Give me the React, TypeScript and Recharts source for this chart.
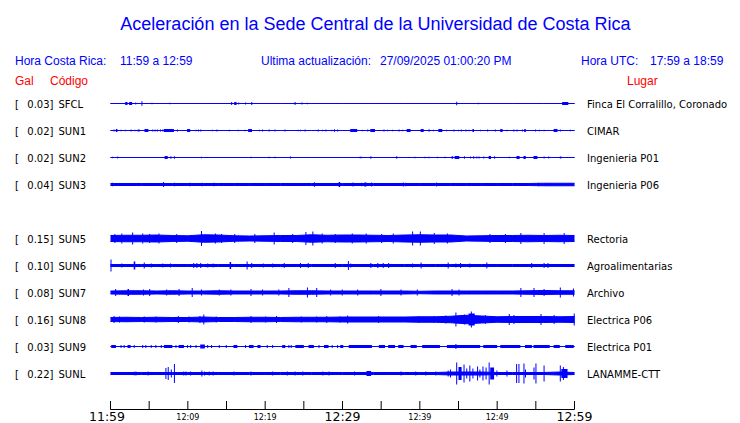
import { ComposedChart, Area, XAxis, YAxis, ReferenceArea } from "recharts";

// estaciones, en el orden de la figura (SUN4 sin datos deja una fila vacia)
const STATIONS = ["SFCL", "SUN1", "SUN2", "SUN3", "SUN5", "SUN6", "SUN7", "SUN8", "SUN9", "SUNL"];
const PEAKS = ["0.03", "0.02", "0.02", "0.04", "0.15", "0.10", "0.08", "0.16", "0.03", "0.22"];
const PLACES = [
    "Finca El Corralillo, Coronado",
    "CIMAR",
    "Ingenieria P01",
    "Ingenieria P06",
    "Rectoria",
    "Agroalimentarias",
    "Archivo",
    "Electrica P06",
    "Electrica P01",
    "LANAMME-CTT",
];

// minutos desde 11:59 donde se leyo la envolvente
const MINUTES = [0, 2, 4, 6, 8, 10, 12, 14, 16, 18, 20, 22, 24, 26, 28, 30, 32, 34, 36, 38, 40, 42, 44, 46, 48, 50, 52, 54, 56, 58, 60];

const TICKS = [0, 5, 10, 15, 20, 25, 30, 35, 40, 45, 50, 55, 60];
const TICK_LABELS = ["11:59", "", "12:09", "", "12:19", "", "12:29", "", "12:39", "", "12:49", "", "12:59"];
const MAJOR_TICKS = [0, 30, 60];

// envolvente (semi-amplitud, Gal) del ruido de fondo de cada traza
const sfclEnv = [0, 0, 0, 0, 0, 0, 0, 0, 0, 0, 0, 0, 0, 0, 0, 0, 0, 0, 0, 0, 0, 0, 0, 0, 0, 0, 0, 0, 0, 0, 0];
const sun1Env = [0, 0, 0, 0, 0, 0, 0, 0, 0, 0, 0, 0, 0, 0, 0, 0, 0, 0, 0, 0, 0, 0, 0, 0, 0, 0, 0, 0, 0, 0, 0];
const sun2Env = [0, 0, 0, 0, 0, 0, 0, 0, 0, 0, 0, 0, 0, 0, 0, 0, 0, 0, 0, 0, 0, 0, 0, 0, 0, 0, 0, 0, 0, 0, 0];
const sun3Env = [0.02, 0.02, 0.02, 0.02, 0.02, 0.02, 0.02, 0.02, 0.02, 0.02, 0.02, 0.02, 0.02, 0.02, 0.02, 0.02, 0.02, 0.02, 0.02, 0.02, 0.02, 0.02, 0.02, 0.02, 0.02, 0.02, 0.02, 0.02, 0.025, 0.025, 0.025];
const sun5Env = [0.06, 0.065, 0.065, 0.07, 0.06, 0.055, 0.075, 0.07, 0.055, 0.05, 0.055, 0.06, 0.06, 0.075, 0.065, 0.07, 0.07, 0.065, 0.06, 0.07, 0.075, 0.07, 0.07, 0.05, 0.055, 0.06, 0.06, 0.065, 0.06, 0.065, 0.06];
const sun6Env = [0.02, 0.02, 0.02, 0.02, 0.02, 0.02, 0.02, 0.02, 0.02, 0.02, 0.02, 0.02, 0.02, 0.02, 0.02, 0.02, 0.02, 0.02, 0.02, 0.02, 0.02, 0.02, 0.02, 0.02, 0.02, 0.02, 0.02, 0.02, 0.02, 0.02, 0.02];
const sun7Env = [0.03, 0.035, 0.035, 0.03, 0.035, 0.03, 0.03, 0.035, 0.03, 0.03, 0.03, 0.03, 0.035, 0.035, 0.03, 0.03, 0.03, 0.03, 0.03, 0.03, 0.025, 0.03, 0.03, 0.03, 0.03, 0.03, 0.03, 0.035, 0.04, 0.035, 0.035];
const sun8Env = [0.04, 0.045, 0.04, 0.045, 0.04, 0.04, 0.05, 0.04, 0.04, 0.045, 0.045, 0.04, 0.045, 0.045, 0.045, 0.05, 0.05, 0.05, 0.05, 0.05, 0.055, 0.055, 0.065, 0.085, 0.07, 0.055, 0.06, 0.06, 0.06, 0.055, 0.06];
const sun9Env = [0, 0, 0, 0, 0, 0, 0, 0, 0, 0, 0, 0, 0, 0, 0, 0, 0, 0, 0, 0, 0, 0, 0, 0, 0, 0, 0, 0, 0, 0, 0];
const sunlEnv = [0.02, 0.02, 0.02, 0.02, 0.02, 0.02, 0.02, 0.02, 0.02, 0.02, 0.02, 0.02, 0.02, 0.02, 0.02, 0.02, 0.02, 0.02, 0.02, 0.02, 0.02, 0.02, 0.03, 0.03, 0.03, 0.02, 0.02, 0.02, 0.02, 0.03, 0.02];

// picos y rafagas: [minuto inicio, minuto fin, semi-amplitud Gal]
const sfclBursts = [
    [1.9, 2.2, 0.03], [2.4, 2.8, 0.03], [3.2, 3.2, 0.02], [4.0, 4.1, 0.045], [5.3, 5.3, 0.015], [7.6, 7.6, 0.015],
    [15.6, 15.7, 0.03], [16.0, 16.3, 0.03], [16.5, 16.5, 0.02], [17.4, 17.5, 0.02], [18.2, 18.2, 0.03],
    [23.8, 23.9, 0.03], [24.7, 24.7, 0.02], [25.4, 25.4, 0.015], [44.7, 44.7, 0.035], [47.5, 47.5, 0.015],
    [58.4, 59.2, 0.03],
];
const sun1Bursts = [
    [0.4, 0.4, 0.02], [0.7, 0.9, 0.03], [1.3, 1.3, 0.015], [1.85, 1.85, 0.015], [2.6, 2.6, 0.02], [3.1, 3.1, 0.015],
    [3.45, 3.45, 0.015], [3.6, 3.75, 0.025], [4.4, 4.9, 0.03], [5.4, 5.4, 0.02], [5.7, 5.7, 0.02], [6.0, 6.0, 0.02],
    [6.4, 6.4, 0.02], [6.7, 6.7, 0.02], [6.9, 8.2, 0.03], [8.6, 8.6, 0.02], [9.9, 10.3, 0.03], [11.0, 11.0, 0.015],
    [11.3, 11.3, 0.02], [11.6, 11.6, 0.02], [13.1, 13.1, 0.015], [13.7, 13.7, 0.02], [15.3, 15.3, 0.015],
    [16.45, 16.45, 0.015], [17.35, 17.35, 0.015], [17.8, 18.3, 0.03], [19.2, 19.2, 0.015], [19.6, 19.6, 0.02],
    [20.45, 20.45, 0.02], [21.2, 21.2, 0.02], [22.5, 22.5, 0.02], [24.2, 24.2, 0.015], [24.5, 24.5, 0.015],
    [25.1, 25.1, 0.02], [26.8, 26.8, 0.02], [27.35, 27.35, 0.015], [27.8, 27.8, 0.02], [28.55, 28.55, 0.015],
    [28.9, 29.0, 0.025], [29.3, 29.3, 0.02], [31.0, 31.9, 0.03], [32.5, 32.5, 0.015], [33.2, 33.2, 0.02],
    [33.6, 34.2, 0.03], [35.3, 35.3, 0.02], [35.75, 35.75, 0.015], [36.4, 36.4, 0.015], [37.25, 37.25, 0.02],
    [37.7, 37.7, 0.015], [38.3, 38.8, 0.03], [40.1, 40.5, 0.03], [41.1, 41.3, 0.02], [41.7, 41.7, 0.015],
    [42.4, 42.9, 0.03], [43.4, 43.4, 0.015], [44.35, 44.35, 0.02], [44.9, 44.9, 0.015], [45.3, 45.3, 0.02],
    [45.9, 45.9, 0.02], [46.3, 46.3, 0.015], [46.8, 47.0, 0.03], [47.8, 47.8, 0.015], [48.7, 48.7, 0.02],
    [49.7, 49.8, 0.02], [50.4, 50.7, 0.03], [51.2, 51.2, 0.015], [52.1, 52.1, 0.02], [52.5, 52.5, 0.02],
    [53.2, 53.2, 0.02], [53.5, 53.7, 0.03], [54.9, 54.9, 0.02], [55.4, 55.4, 0.015], [56.0, 56.0, 0.015],
    [57.3, 57.8, 0.03], [58.1, 58.1, 0.02], [59.4, 59.4, 0.015],
];
const sun2Bursts = [
    [0.2, 0.2, 0.015], [0.87, 0.87, 0.02], [7.0, 7.4, 0.03], [7.75, 7.75, 0.025], [8.2, 8.2, 0.025],
    [11.7, 11.7, 0.015], [18.1, 18.1, 0.015], [20.45, 20.45, 0.015], [21.2, 21.2, 0.015], [23.2, 23.2, 0.02],
    [32.2, 32.5, 0.015], [33.6, 33.6, 0.025], [36.95, 36.95, 0.025], [39.3, 39.3, 0.015], [40.6, 40.6, 0.015],
    [41.1, 41.1, 0.015], [42.2, 42.2, 0.015], [43.2, 43.2, 0.015], [44.1, 44.3, 0.025], [44.5, 45.1, 0.03],
    [45.7, 45.7, 0.025], [46.5, 46.5, 0.02], [46.9, 46.9, 0.025], [47.3, 47.3, 0.02], [47.6, 47.6, 0.02],
    [48.2, 48.2, 0.02], [48.9, 49.2, 0.03], [49.6, 49.6, 0.025], [51.5, 51.5, 0.015], [52.5, 52.9, 0.03],
    [53.4, 53.7, 0.03], [54.7, 55.2, 0.03], [56.0, 56.0, 0.02], [56.6, 56.6, 0.02], [58.1, 58.3, 0.02],
];
const sun3Bursts = [
    [0.2, 0.2, 0.035], [6.8, 6.9, 0.05], [8.2, 8.2, 0.035], [10.2, 10.2, 0.035], [11.8, 11.8, 0.035],
    [13.3, 13.3, 0.035], [26.3, 26.3, 0.045], [29.5, 29.7, 0.05], [31.3, 31.3, 0.04], [32.4, 32.4, 0.035],
    [32.8, 33.1, 0.04], [33.7, 33.7, 0.04], [37.8, 37.8, 0.04], [38.1, 38.1, 0.035], [39.5, 39.5, 0.03],
    [42.1, 42.1, 0.04], [43.2, 43.2, 0.03], [55.3, 55.3, 0.035], [56.6, 56.6, 0.03],
];
const sun5Bursts = [
    [0.5, 0.5, 0.09], [1.4, 1.4, 0.1], [2.8, 2.8, 0.12], [4.1, 4.1, 0.1], [5.0, 5.0, 0.09], [6.2, 6.2, 0.1],
    [8.5, 8.5, 0.09], [11.7, 11.7, 0.15], [13.5, 13.5, 0.1], [14.3, 14.3, 0.09], [16.0, 16.0, 0.09],
    [18.6, 18.6, 0.09], [21.1, 21.1, 0.12], [23.5, 23.5, 0.09], [25.2, 25.2, 0.13], [26.1, 26.1, 0.14],
    [27.3, 27.3, 0.1], [29.0, 29.0, 0.09], [31.2, 31.2, 0.1], [33.0, 33.0, 0.1], [35.0, 35.0, 0.09],
    [36.5, 36.5, 0.1], [39.0, 39.0, 0.14], [40.0, 40.0, 0.14], [41.8, 41.8, 0.11], [43.5, 43.5, 0.1],
    [49.0, 49.0, 0.09], [51.0, 51.0, 0.09], [53.0, 53.0, 0.11], [56.0, 56.0, 0.11], [58.6, 58.6, 0.11],
];
const sun6Bursts = [
    [0, 0.05, 0.12], [1.4, 1.4, 0.04], [3.0, 3.2, 0.08], [4.3, 4.3, 0.06], [5.2, 5.2, 0.04], [6.7, 6.7, 0.04],
    [7.7, 7.7, 0.04], [10.7, 10.7, 0.05], [11.1, 11.1, 0.05], [11.6, 11.6, 0.05], [12.5, 12.5, 0.04],
    [13.2, 13.2, 0.04], [15.4, 15.6, 0.07], [17.6, 17.6, 0.08], [18.2, 18.2, 0.05], [19.7, 19.7, 0.04],
    [20.9, 20.9, 0.04], [22.4, 22.4, 0.05], [24.5, 24.5, 0.05], [25.5, 25.5, 0.05], [29.0, 29.0, 0.05],
    [30.7, 30.7, 0.09], [31.0, 31.0, 0.04], [33.6, 33.6, 0.05], [34.5, 34.5, 0.05], [35.2, 35.2, 0.05],
    [35.9, 35.9, 0.05], [39.0, 39.0, 0.04], [40.1, 40.1, 0.06], [43.6, 43.6, 0.06], [44.6, 44.6, 0.04],
    [45.2, 45.2, 0.05], [46.4, 46.4, 0.04], [48.6, 48.6, 0.06], [54.4, 54.4, 0.05], [56.0, 56.0, 0.05],
    [56.5, 56.5, 0.05],
];
const sun7Bursts = [
    [0.6, 0.6, 0.07], [2.2, 2.4, 0.07], [4.2, 4.2, 0.06], [5.0, 5.0, 0.07], [7.2, 7.2, 0.06], [8.8, 8.8, 0.07],
    [10.5, 10.5, 0.09], [11.7, 11.7, 0.06], [14.0, 14.0, 0.06], [15.5, 15.5, 0.06], [18.1, 18.1, 0.07],
    [19.6, 19.6, 0.06], [21.7, 21.7, 0.06], [23.0, 23.0, 0.09], [25.4, 25.4, 0.1], [26.6, 26.6, 0.09],
    [28.4, 28.4, 0.06], [29.9, 29.9, 0.06], [31.9, 31.9, 0.06], [34.9, 34.9, 0.07], [37.5, 37.5, 0.06],
    [39.6, 39.6, 0.06], [44.1, 44.1, 0.07], [45.0, 45.0, 0.06], [53.0, 53.0, 0.09], [54.7, 54.7, 0.09],
    [56.0, 56.0, 0.07], [58.1, 58.1, 0.1], [59.8, 59.8, 0.08],
];
const sun8Bursts = [
    [0.4, 0.4, 0.07], [1.1, 1.1, 0.06], [4.3, 4.3, 0.06], [5.8, 5.8, 0.06], [8.7, 8.7, 0.07], [10.1, 10.1, 0.06],
    [11.5, 11.5, 0.07], [12.0, 12.0, 0.1], [13.6, 13.6, 0.06], [18.1, 18.1, 0.07], [20.0, 20.0, 0.06],
    [21.4, 21.4, 0.07], [24.6, 24.6, 0.06], [26.6, 26.6, 0.06], [27.9, 27.9, 0.07], [29.6, 29.6, 0.06],
    [30.6, 30.6, 0.08], [34.6, 34.6, 0.07], [39.8, 39.8, 0.07], [41.8, 41.8, 0.07], [43.3, 43.3, 0.08],
    [44.6, 44.6, 0.14], [45.7, 45.7, 0.1], [46.3, 47.1, 0.12], [46.6, 46.6, 0.16], [48.4, 48.4, 0.09],
    [51.5, 51.5, 0.11], [52.1, 52.1, 0.09], [55.6, 55.6, 0.11], [57.3, 57.3, 0.09], [59.9, 59.9, 0.12],
];
const sun9Bursts = [
    [0.1, 0.7, 0.03], [1.3, 1.3, 0.03], [1.7, 1.7, 0.03], [2.2, 2.6, 0.03], [3.0, 3.0, 0.03], [4.1, 4.1, 0.03],
    [4.5, 4.5, 0.03], [5.2, 5.2, 0.03], [5.8, 5.8, 0.03], [6.5, 6.5, 0.03], [6.9, 8.0, 0.03], [8.4, 8.4, 0.03],
    [8.8, 9.5, 0.03], [9.9, 9.9, 0.03], [10.3, 10.3, 0.03], [11.0, 11.0, 0.03], [11.6, 12.2, 0.04],
    [12.5, 12.5, 0.03], [13.0, 13.0, 0.03], [14.0, 14.0, 0.03], [14.9, 14.9, 0.03], [15.9, 16.4, 0.03],
    [17.4, 17.4, 0.03], [17.9, 18.5, 0.03], [19.0, 19.4, 0.03], [20.2, 20.2, 0.03], [20.9, 20.9, 0.03],
    [22.2, 22.6, 0.03], [23.0, 23.0, 0.03], [23.3, 23.3, 0.03], [23.9, 25.0, 0.03], [25.6, 26.3, 0.03],
    [26.9, 26.9, 0.03], [27.6, 28.2, 0.03], [28.6, 28.6, 0.03], [29.3, 29.3, 0.03], [29.7, 30.1, 0.03],
    [30.8, 33.8, 0.03], [34.7, 35.5, 0.03], [35.9, 36.8, 0.03], [37.2, 37.9, 0.03], [38.8, 39.6, 0.03],
    [40.3, 42.6, 0.03], [43.5, 47.8, 0.03], [44.6, 44.6, 0.05], [48.2, 50.0, 0.03], [50.4, 53.0, 0.03],
    [53.6, 54.5, 0.03], [54.7, 56.8, 0.03], [57.3, 58.1, 0.03], [58.8, 59.9, 0.03],
];
const sunlBursts = [
    [3.0, 3.4, 0.035], [4.8, 4.8, 0.04], [5.4, 5.4, 0.03], [7.1, 7.1, 0.11], [7.4, 7.4, 0.13], [7.8, 7.8, 0.08],
    [8.2, 8.2, 0.19], [9.4, 9.4, 0.04], [9.7, 9.7, 0.04], [10.3, 10.3, 0.04], [11.75, 11.75, 0.06],
    [12.1, 12.1, 0.04], [12.7, 12.7, 0.04], [13.2, 13.2, 0.04], [15.2, 15.2, 0.03], [15.9, 15.9, 0.04],
    [18.1, 18.1, 0.04], [20.9, 20.9, 0.04], [22.8, 22.8, 0.04], [23.8, 23.8, 0.04], [24.8, 24.8, 0.04],
    [27.4, 27.4, 0.04], [28.2, 28.2, 0.04], [31.5, 31.5, 0.04], [33.1, 33.7, 0.05], [35.2, 35.2, 0.03],
    [37.5, 37.5, 0.04], [39.4, 39.4, 0.04], [40.7, 40.7, 0.04], [42.0, 42.0, 0.04], [43.6, 43.6, 0.06],
    [43.9, 43.9, 0.08], [44.7, 44.8, 0.22], [45.0, 45.4, 0.13], [45.65, 45.7, 0.18], [46.0, 46.0, 0.1],
    [46.4, 46.5, 0.16], [46.8, 46.8, 0.1], [47.4, 47.4, 0.14], [47.7, 47.7, 0.08], [48.1, 48.1, 0.14],
    [48.5, 48.5, 0.12], [48.9, 49.0, 0.22], [49.1, 49.6, 0.12], [49.9, 49.9, 0.06], [51.2, 51.2, 0.06],
    [52.45, 52.45, 0.19], [52.75, 52.75, 0.19], [53.4, 53.4, 0.2], [53.6, 53.6, 0.08], [54.7, 54.7, 0.12],
    [54.95, 54.95, 0.2], [56.0, 56.0, 0.16], [58.1, 58.1, 0.16], [58.3, 59.1, 0.09], [58.5, 58.5, 0.13],
];

const ENVELOPES = [sfclEnv, sun1Env, sun2Env, sun3Env, sun5Env, sun6Env, sun7Env, sun8Env, sun9Env, sunlEnv];
const BURSTS = [sfclBursts, sun1Bursts, sun2Bursts, sun3Bursts, sun5Bursts, sun6Bursts, sun7Bursts, sun8Bursts, sun9Bursts, sunlBursts];

// layout
const W = 740;
const H = 423;
const PLOT_TOP = 90;
const AXIS_Y = 409.5;
const PX_PER_GAL = 50;
const FIRST_ROW = 103.5;
const ROW_GAP = 27;
const ROW_SLOTS = [0, 1, 2, 3, 5, 6, 7, 8, 9, 10]; // fila 4 vacia (SUN4)
const BLUE = "#0000ff";
const MIN_WIDTH = 0.13; // ~1px en minutos

const rowPx = (i: number) => FIRST_ROW + ROW_GAP * ROW_SLOTS[i];
const rowCenter = (i: number) => -(rowPx(i) - PLOT_TOP) / PX_PER_GAL;
const Y_MIN = -(AXIS_Y - PLOT_TOP) / PX_PER_GAL;

const data = MINUTES.map((t, k) => {
    const row: any = { t };
    STATIONS.forEach((s, i) => {
        const c = rowCenter(i);
        const e = ENVELOPES[i][k];
        row[s] = [c - e, c + e];
    });
    return row;
});

const TimeTick = (props: any) => {
    const { x, y, payload } = props;
    const idx = TICKS.indexOf(payload.value);
    const label = TICK_LABELS[idx];
    const major = MAJOR_TICKS.includes(payload.value);
    return (
        <g>
            <line x1={x} x2={x} y1={y - 8.5} y2={y} stroke="#000" strokeWidth={1} />
            {label && (
                <text
                    x={major && payload.value === 0 ? x - 3.5 : x}
                    y={major ? y + 11 : y + 10.5}
                    textAnchor="middle"
                    fontFamily="DejaVu Sans"
                    fontSize={major ? 12.5 : 8}
                    fill="#000"
                >
                    {label}
                </text>
            )}
        </g>
    );
};

const headerFont = "'Liberation Sans', Arial, sans-serif";
const labelFont = "'DejaVu Sans', sans-serif";

const App = () => {
    return (
        <div style={{ position: "absolute", left: 0, top: 0, width: W, height: H, background: "#fff" }}>
            <ComposedChart
                width={W}
                height={H}
                data={data}
                margin={{ top: PLOT_TOP, right: W - 574.5, bottom: 0, left: 110.5 }}
            >
                <XAxis
                    type="number"
                    dataKey="t"
                    domain={[0, 60]}
                    ticks={TICKS}
                    interval={0}
                    height={H - AXIS_Y}
                    tickSize={0}
                    tickMargin={0}
                    tickLine={false}
                    axisLine={{ stroke: "#000", strokeWidth: 1 }}
                    tick={<TimeTick />}
                />
                <YAxis type="number" hide domain={[Y_MIN, 0]} allowDataOverflow />
                {STATIONS.map((s) => (
                    <Area
                        key={s}
                        dataKey={s}
                        type="linear"
                        stroke={BLUE}
                        strokeWidth={1}
                        fill={BLUE}
                        fillOpacity={1}
                        dot={false}
                        activeDot={false}
                        isAnimationActive={false}
                    />
                ))}
                {STATIONS.flatMap((s, i) =>
                    BURSTS[i].map(([t0, t1, a], j) => (
                        <ReferenceArea
                            key={`${s}-${j}`}
                            x1={t0}
                            x2={Math.max(t1, t0 + MIN_WIDTH)}
                            y1={rowCenter(i) - a}
                            y2={rowCenter(i) + a}
                            fill={BLUE}
                            fillOpacity={1}
                            stroke="none"
                            ifOverflow="visible"
                        />
                    ))
                )}
            </ComposedChart>
            <svg width={W} height={H} style={{ position: "absolute", left: 0, top: 0, pointerEvents: "none" }}>
                <text x={375.5} y={30} textAnchor="middle" fontFamily={headerFont} fontSize={18} fill={BLUE}>
                    Aceleración en la Sede Central de la Universidad de Costa Rica
                </text>
                <g fontFamily={headerFont} fontSize={12} fill={BLUE}>
                    <text x={15} y={65}>Hora Costa Rica:</text>
                    <text x={120} y={65}>11:59 a 12:59</text>
                    <text x={261} y={65}>Ultima actualización:</text>
                    <text x={380} y={65}>27/09/2025 01:00:20 PM</text>
                    <text x={581} y={65}>Hora UTC:</text>
                    <text x={650} y={65}>17:59 a 18:59</text>
                </g>
                <g fontFamily={headerFont} fontSize={12} fill="#ff0000">
                    <text x={15} y={85}>Gal</text>
                    <text x={50} y={85}>Código</text>
                    <text x={627} y={85}>Lugar</text>
                </g>
                <g fontFamily={labelFont} fontSize={10} fill="#000">
                    {STATIONS.map((s, i) => (
                        <g key={s}>
                            <text x={15} y={rowPx(i) + 4}>[</text>
                            <text x={53.5} y={rowPx(i) + 4} textAnchor="end">{PEAKS[i]}]</text>
                            <text x={58.5} y={rowPx(i) + 4}>{s}</text>
                            <text x={587} y={rowPx(i) + 4}>{PLACES[i]}</text>
                        </g>
                    ))}
                </g>
            </svg>
        </div>
    );
};

export default App;
